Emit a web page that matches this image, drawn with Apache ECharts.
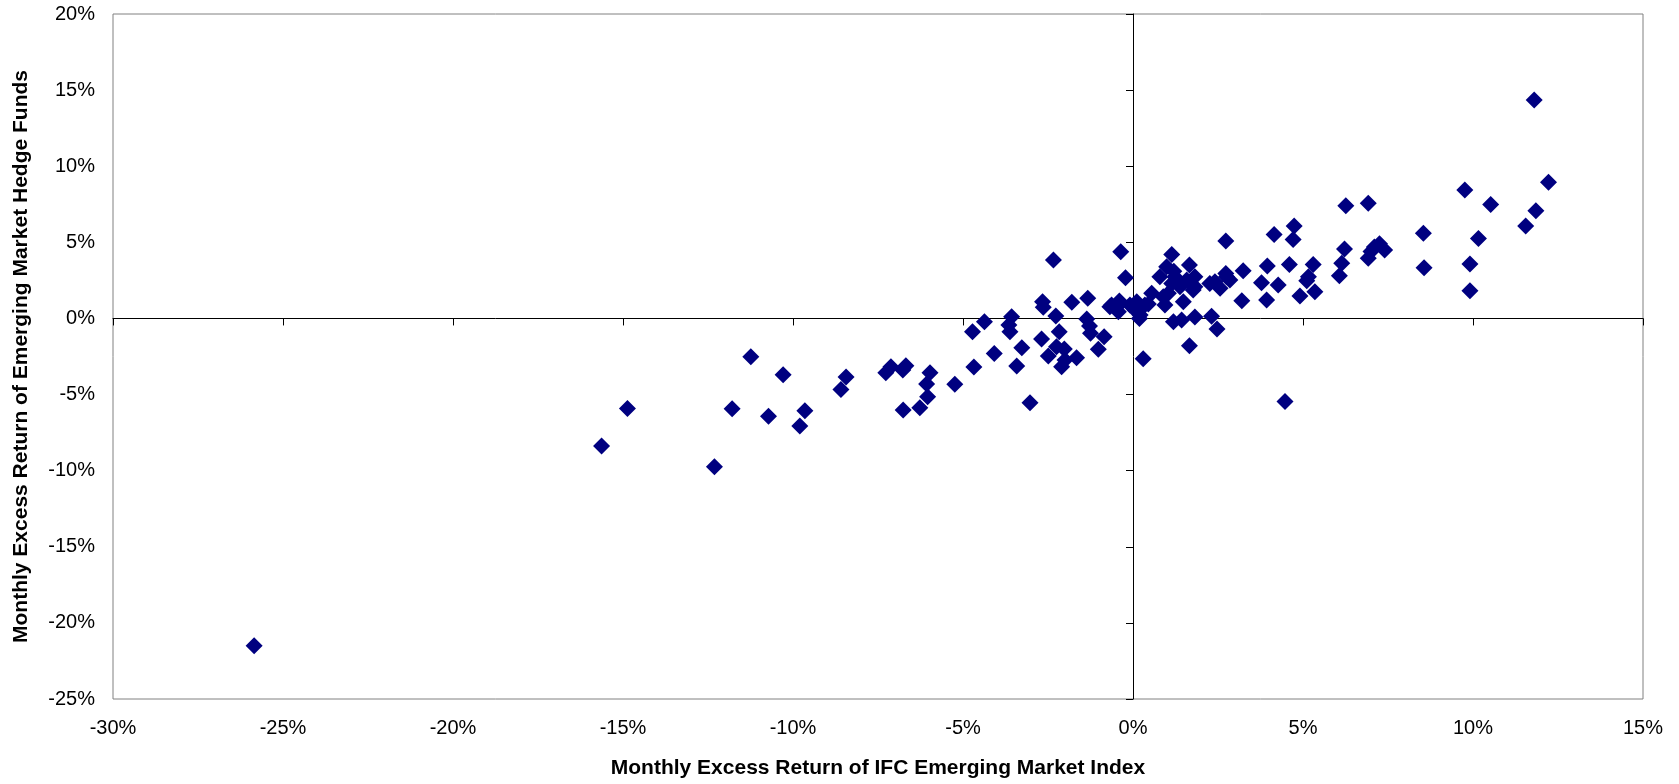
<!DOCTYPE html>
<html>
<head>
<meta charset="utf-8">
<script src="https://cdn.jsdelivr.net/npm/echarts@6/dist/echarts.min.js"></script>
<style>html,body{margin:0;padding:0;background:#fff}#c{width:1679px;height:784px}</style>
</head>
<body>
<div id="c"></div>
<script>
// Monthly excess return of IFC Emerging Market Index (x, %) and of emerging market hedge funds (y, %)
var ifcReturn = [
 -25.85,-15.63,-14.87,-12.31,-11.79,-11.24,-10.72,-10.29,-9.8,-9.65,
 -8.59,-8.44,-7.27,-7.12,-6.77,-6.68,-6.76,-6.27,-6.07,-6.04,
 -5.97,-5.24,-4.68,-4.72,-4.37,-4.08,-3.57,-3.65,-3.62,-3.42,
 -3.27,-3.03,-2.66,-2.64,-2.34,-2.27,-2.17,-2.69,-2.49,-2.25,
 -2.02,-2.0,-2.10,-1.66,-1.80,-1.33,-1.36,-1.28,-1.25,-1.02,
 -0.85,-0.36,-0.22,-0.68,-0.48,-0.40,-0.43,-0.63,-0.09,0.11,
 0.21,0.06,0.35,0.19,0.55,0.30,0.89,1.04,0.94,0.79,
 0.99,1.14,1.23,1.14,1.38,1.48,1.66,1.82,1.82,1.19,
 1.43,1.82,1.66,2.26,2.41,2.56,2.75,2.85,2.73,2.31,
 2.47,2.73,3.24,3.20,3.78,3.95,3.93,4.15,4.27,4.60,
 4.74,4.71,4.91,5.16,5.11,5.30,5.35,4.47,6.07,6.14,
 6.22,6.26,6.92,6.92,7.0,7.1,7.25,7.4,8.54,8.56,
 9.76,9.91,9.91,10.16,10.52,11.55,11.85,11.80,12.22,1.77,
 1.58,1.2,0.45
];
var hedgeReturn = [
 -21.5,-8.38,-5.91,-9.74,-5.93,-2.52,-6.43,-3.70,-7.07,-6.06,
 -4.66,-3.85,-3.57,-3.17,-3.39,-3.11,-6.02,-5.87,-4.31,-5.14,
 -3.57,-4.33,-3.19,-0.87,-0.21,-2.30,0.11,-0.43,-0.87,-3.13,
 -1.92,-5.54,1.10,0.73,3.84,0.16,-0.87,-1.35,-2.47,-1.86,
 -2.01,-2.73,-3.17,-2.58,1.06,1.32,-0.04,-0.50,-0.98,-2.03,
 -1.20,4.38,2.68,0.77,0.73,1.14,0.44,0.88,0.88,1.10,
 0.22,0.55,0.88,0.0,1.65,-2.64,1.43,1.65,0.88,2.74,
 3.40,4.20,2.74,2.30,2.09,1.10,3.51,2.74,2.09,-0.21,
 -0.11,0.09,-1.80,2.30,2.41,1.98,2.74,2.52,2.96,0.14,
 -0.70,5.08,3.14,1.16,2.35,3.44,1.21,5.52,2.19,3.55,
 6.07,5.19,1.47,2.74,2.48,3.55,1.75,-5.45,2.81,3.62,
 4.56,7.41,7.56,3.95,4.4,4.7,4.9,4.5,5.59,3.33,
 8.44,3.57,1.82,5.26,7.49,6.07,7.08,14.35,8.94,1.87,
 2.52,3.1,0.95
];
var xTicks = {min: -30, max: 15, step: 5};
var yTicks = {min: -25, max: 20, step: 5};
var xTitle = 'Monthly Excess Return of IFC Emerging Market Index';
var yTitle = 'Monthly Excess Return of Emerging Market Hedge Funds';

var points = ifcReturn.map(function (x, i) { return [x, hedgeReturn[i]]; });
var font = '"Liberation Sans", Arial, sans-serif';
var pct = function (v) { return v + '%'; };

var chart = echarts.init(document.getElementById('c'), null, {renderer: 'canvas'});
chart.setOption({
  animation: false,
  backgroundColor: '#ffffff',
  grid: {left: 113, top: 14, right: 36, bottom: 85, show: true, borderColor: '#808080', borderWidth: 1, backgroundColor: 'transparent'},
  xAxis: [{
    type: 'value', min: xTicks.min, max: xTicks.max, interval: xTicks.step, position: 'bottom',
    axisLine: {show: false, onZero: false}, axisTick: {show: false}, splitLine: {show: false},
    axisLabel: {formatter: pct, color: '#000', fontFamily: font, fontSize: 20, margin: 19},
    name: xTitle, nameLocation: 'middle', nameGap: 59,
    nameTextStyle: {color: '#000', fontFamily: font, fontSize: 21, fontWeight: 'bold'}
  }, {
    type: 'value', min: xTicks.min, max: xTicks.max, interval: xTicks.step, position: 'top',
    axisLine: {show: true, onZero: true, onZeroAxisIndex: 0, lineStyle: {color: '#000', width: 1}},
    axisTick: {show: true, inside: true, length: 7, lineStyle: {color: '#000'}}, axisLabel: {show: false}, splitLine: {show: false}
  }],
  yAxis: [{
    type: 'value', min: yTicks.min, max: yTicks.max, interval: yTicks.step, position: 'left',
    axisLine: {show: false, onZero: false}, axisTick: {show: false}, splitLine: {show: false},
    axisLabel: {formatter: pct, color: '#000', fontFamily: font, fontSize: 20, margin: 18},
    name: yTitle, nameLocation: 'middle', nameGap: 81, nameRotate: 90,
    nameTextStyle: {color: '#000', fontFamily: font, fontSize: 21, fontWeight: 'bold'}
  }, {
    type: 'value', min: yTicks.min, max: yTicks.max, interval: yTicks.step, position: 'right',
    axisLine: {show: true, onZero: true, onZeroAxisIndex: 0, lineStyle: {color: '#000', width: 1}},
    axisTick: {show: true, inside: true, length: 7, lineStyle: {color: '#000'}}, axisLabel: {show: false}, splitLine: {show: false}
  }],
  series: [{
    type: 'scatter', xAxisIndex: 0, yAxisIndex: 0, data: points,
    symbol: 'diamond', symbolSize: 17,
    itemStyle: {color: '#000080', opacity: 1}
  }]
});
</script>
</body>
</html>
